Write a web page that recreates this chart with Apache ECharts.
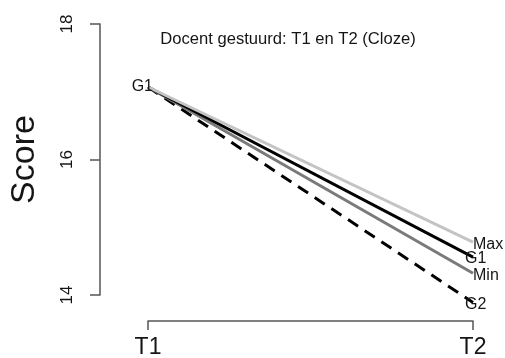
<!DOCTYPE html>
<html>
<head>
<meta charset="utf-8">
<script src="https://cdn.jsdelivr.net/npm/echarts@6/dist/echarts.min.js"></script>
<style>
  html, body { margin: 0; padding: 0; background: #fff; }
  #chart { width: 505px; height: 358px; }
</style>
</head>
<body>
<div id="chart"></div>
<script>
// data
var timeLabels = ['T1', 'T2'];
var yTicks = [14, 16, 18];
var maxScores = [17.07, 14.78];
var g1Scores = [17.07, 14.56];
var minScores = [17.07, 14.32];
var g2Scores = [17.07, 13.89];

var font = 'Liberation Sans, Arial, sans-serif';
var textColor = '#151515';
var axisColor = '#555';

var chart = echarts.init(document.getElementById('chart'));

function lineSeries(name, values, color, dash, labelOffset) {
  return {
    name: name,
    type: 'line',
    data: values,
    symbol: 'circle',
    symbolSize: 0,
    showSymbol: true,
    clip: false,
    silent: true,
    lineStyle: { color: color, width: 3, type: dash || 'solid' },
    endLabel: {
      show: true,
      formatter: '{a}',
      distance: 0,
      offset: labelOffset,
      color: textColor,
      fontFamily: font,
      fontSize: 16
    }
  };
}

// first point of G1 gets the "G1" tag on the left
var g1Data = g1Scores.map(function (v, i) {
  if (i === 0) {
    return { value: v, label: { show: true, position: 'left', distance: 1, offset: [6, 0],
      formatter: 'G1', color: textColor, fontFamily: font, fontSize: 16 } };
  }
  return v;
});

var option = {
  animation: false,
  backgroundColor: '#fff',
  title: {
    text: 'Docent gestuurd: T1 en T2 (Cloze)',
    left: 283,
    top: 26,
    textAlign: 'center',
    textStyle: { fontFamily: font, fontSize: 16.6, fontWeight: 'normal', color: textColor }
  },
  grid: { left: 148, right: 32, top: 24, bottom: 63, outerBoundsMode: 'none' },
  xAxis: {
    type: 'category',
    data: timeLabels,
    boundaryGap: false,
    offset: 26,
    axisLine: { lineStyle: { color: axisColor, width: 1.5 } },
    axisTick: { length: 9, lineStyle: { color: axisColor, width: 1.5 } },
    axisLabel: { margin: 15, color: textColor, fontFamily: font, fontSize: 23 },
    splitLine: { show: false }
  },
  yAxis: {
    type: 'value',
    min: yTicks[0],
    max: yTicks[yTicks.length - 1],
    interval: yTicks[1] - yTicks[0],
    offset: 48,
    name: 'Score',
    nameLocation: 'middle',
    nameGap: 58,
    nameRotate: 90,
    nameTextStyle: { fontFamily: font, fontSize: 34, color: textColor },
    axisLine: { show: true, lineStyle: { color: axisColor, width: 1.5 } },
    axisTick: { show: true, length: 10, lineStyle: { color: axisColor, width: 1.5 } },
    axisLabel: { rotate: 90, margin: 24, color: textColor, fontFamily: font, fontSize: 17 },
    splitLine: { show: false }
  },
  series: [
    lineSeries('G2', g2Scores, '#000', [12, 8], [-8, 2]),
    lineSeries('Min', minScores, '#7a7a7a', null, [0, 2]),
    lineSeries('G1', g1Data, '#000', null, [-8, 2]),
    lineSeries('Max', maxScores, '#c4c4c4', null, [0, 2])
  ]
};

chart.setOption(option);
</script>
</body>
</html>
